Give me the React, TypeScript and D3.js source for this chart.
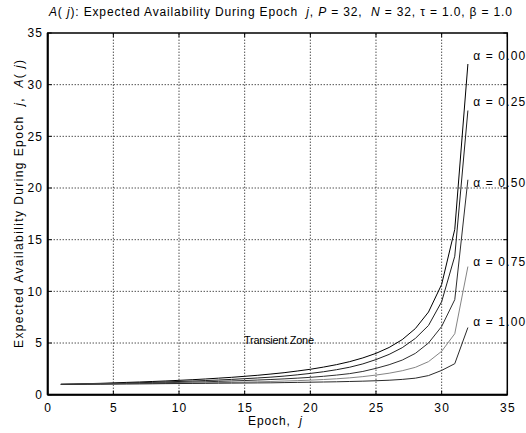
import React from 'react';
import * as d3 from 'd3';

// epochs j = 1 .. 32
const epochs = [1, 2, 3, 4, 5, 6, 7, 8, 9, 10, 11, 12, 13, 14, 15, 16,
  17, 18, 19, 20, 21, 22, 23, 24, 25, 26, 27, 28, 29, 30, 31, 32];

const alpha000 = [1.00, 1.03, 1.07, 1.10, 1.14, 1.19, 1.23, 1.28, 1.33, 1.39, 1.45, 1.52, 1.60, 1.68, 1.78, 1.88,
  2.00, 2.13, 2.29, 2.46, 2.67, 2.91, 3.20, 3.56, 4.00, 4.57, 5.33, 6.40, 8.00, 10.67, 16.0, 32.0];
const alpha025 = [1.00, 1.02, 1.05, 1.07, 1.10, 1.13, 1.16, 1.20, 1.24, 1.28, 1.32, 1.37, 1.42, 1.48, 1.55, 1.62,
  1.70, 1.80, 1.92, 2.06, 2.22, 2.42, 2.66, 2.98, 3.40, 3.90, 4.55, 5.45, 6.70, 9.00, 13.4, 27.5];
const alpha050 = [1.00, 1.01, 1.03, 1.05, 1.07, 1.09, 1.11, 1.13, 1.16, 1.19, 1.22, 1.25, 1.29, 1.33, 1.37, 1.42,
  1.47, 1.53, 1.60, 1.68, 1.78, 1.90, 2.04, 2.25, 2.55, 2.90, 3.35, 4.00, 5.00, 6.60, 9.20, 20.8];
const alpha075 = [1.00, 1.01, 1.02, 1.03, 1.04, 1.05, 1.06, 1.07, 1.09, 1.11, 1.13, 1.15, 1.17, 1.19, 1.22, 1.25,
  1.28, 1.32, 1.36, 1.41, 1.47, 1.54, 1.63, 1.75, 1.90, 2.08, 2.32, 2.65, 3.20, 4.20, 5.90, 12.4];
const alpha100 = [1.00, 1.00, 1.01, 1.02, 1.03, 1.04, 1.05, 1.06, 1.07, 1.08, 1.09, 1.10, 1.11, 1.12, 1.13, 1.14,
  1.15, 1.17, 1.19, 1.21, 1.23, 1.25, 1.28, 1.31, 1.35, 1.40, 1.48, 1.60, 1.85, 2.35, 3.00, 6.50];

const seriesNames = ['α = 0.00', 'α = 0.25', 'α = 0.50', 'α = 0.75', 'α = 1.00'];
const seriesColors = ['#000000', '#1e1e1e', '#2e2e2e', '#858585', '#2a2a2a'];
// label anchor (epoch, value) where each series name is written
const labelEpochs = [32.4, 32.4, 32.4, 32.4, 32.4];
const labelValues = [32.4, 27.9, 20.1, 12.45, 6.65];

const xTicks = [0, 5, 10, 15, 20, 25, 30, 35];
const yTicks = [0, 5, 10, 15, 20, 25, 30, 35];

const W = 526;
const H = 433;
const margin = { top: 33, right: 18.7, bottom: 38.3, left: 47.7 };
const font = '"Liberation Sans", Arial, sans-serif';

export default function App() {
  const x = d3.scaleLinear().domain([0, 35]).range([margin.left, W - margin.right]);
  const y = d3.scaleLinear().domain([0, 35]).range([H - margin.bottom, margin.top]);

  const allSeries = [alpha000, alpha025, alpha050, alpha075, alpha100];
  const line = d3.line<number>()
    .x((_, i) => x(epochs[i]))
    .y(d => y(d));

  const x0 = x(0), x1 = x(35), y0 = y(0), y1 = y(35);

  return (
    <svg width={W} height={H} style={{ position: 'fixed', left: 0, top: 0, background: '#fff' }}
      fontFamily={font} fontSize={12}>
      <rect x={0} y={0} width={W} height={H} fill="#fff" />

      {/* grid */}
      {xTicks.slice(1, -1).map(t => (
        <line key={'gx' + t} x1={x(t)} x2={x(t)} y1={y0} y2={y1}
          stroke="#000" strokeWidth={1} strokeDasharray="1,2" />
      ))}
      {yTicks.slice(1, -1).map(t => (
        <line key={'gy' + t} x1={x0} x2={x1} y1={y(t)} y2={y(t)}
          stroke="#000" strokeWidth={1} strokeDasharray="1,2" />
      ))}

      {/* curves */}
      {allSeries.map((s, i) => (
        <path key={'s' + i} d={line(s) || ''} fill="none" stroke={seriesColors[i]} strokeWidth={1} />
      ))}

      {/* frame and ticks */}
      <rect x={x0} y={y1} width={x1 - x0} height={y0 - y1} fill="none" stroke="#000" strokeWidth={1.5} />
      <line x1={x0} x2={x1} y1={y0} y2={y0} stroke="#000" strokeWidth={2} />
      <line x1={x0} x2={x0} y1={y0} y2={y1} stroke="#000" strokeWidth={2} />
      {xTicks.map(t => (
        <g key={'tx' + t}>
          <line x1={x(t)} x2={x(t)} y1={y0} y2={y0 - 4} stroke="#000" />
          <line x1={x(t)} x2={x(t)} y1={y1} y2={y1 + 4} stroke="#000" />
          <text x={x(t) + 0.6} y={y0 + 17} textAnchor="middle" letterSpacing={1.2}>{t}</text>
        </g>
      ))}
      {yTicks.map(t => (
        <g key={'ty' + t}>
          <line x1={x0} x2={x0 + 4} y1={y(t)} y2={y(t)} stroke="#000" />
          <line x1={x1} x2={x1 - 4} y1={y(t)} y2={y(t)} stroke="#000" />
          <text x={x0 - 4.5} y={y(t)} dy="0.35em" textAnchor="end" letterSpacing={1.2}>{t}</text>
        </g>
      ))}

      {/* series labels */}
      {seriesNames.map((n, i) => (
        <text key={'l' + i} x={x(labelEpochs[i])} y={y(labelValues[i])} xmlSpace="preserve"
          textLength={52} lengthAdjust="spacing">{n}</text>
      ))}

      <text x={244} y={y(4.9)} fontSize={11} textLength={70} lengthAdjust="spacing">Transient Zone</text>

      {/* title */}
      <text x={49} y={16} xmlSpace="preserve" textLength={463} lengthAdjust="spacing">
        <tspan fontStyle="italic">A</tspan>{'( '}<tspan fontStyle="italic">j</tspan>{'): Expected Availability During Epoch  '}<tspan fontStyle="italic">j</tspan>{', '}<tspan fontStyle="italic">P</tspan>{' = 32,  '}<tspan fontStyle="italic">N</tspan>{' = 32, τ = 1.0, β = 1.0'}
      </text>

      {/* axis titles */}
      <text x={248} y={425} xmlSpace="preserve" textLength={54} lengthAdjust="spacing">
        {'Epoch,  '}<tspan fontStyle="italic">j</tspan>
      </text>
      <text transform="translate(23,348) rotate(-90)" xmlSpace="preserve" textLength={288} lengthAdjust="spacing">
        {'Expected Availability During Epoch  '}<tspan fontStyle="italic">j</tspan>{',  '}<tspan fontStyle="italic">A</tspan>{'( '}<tspan fontStyle="italic">j</tspan>{')'}
      </text>
    </svg>
  );
}
